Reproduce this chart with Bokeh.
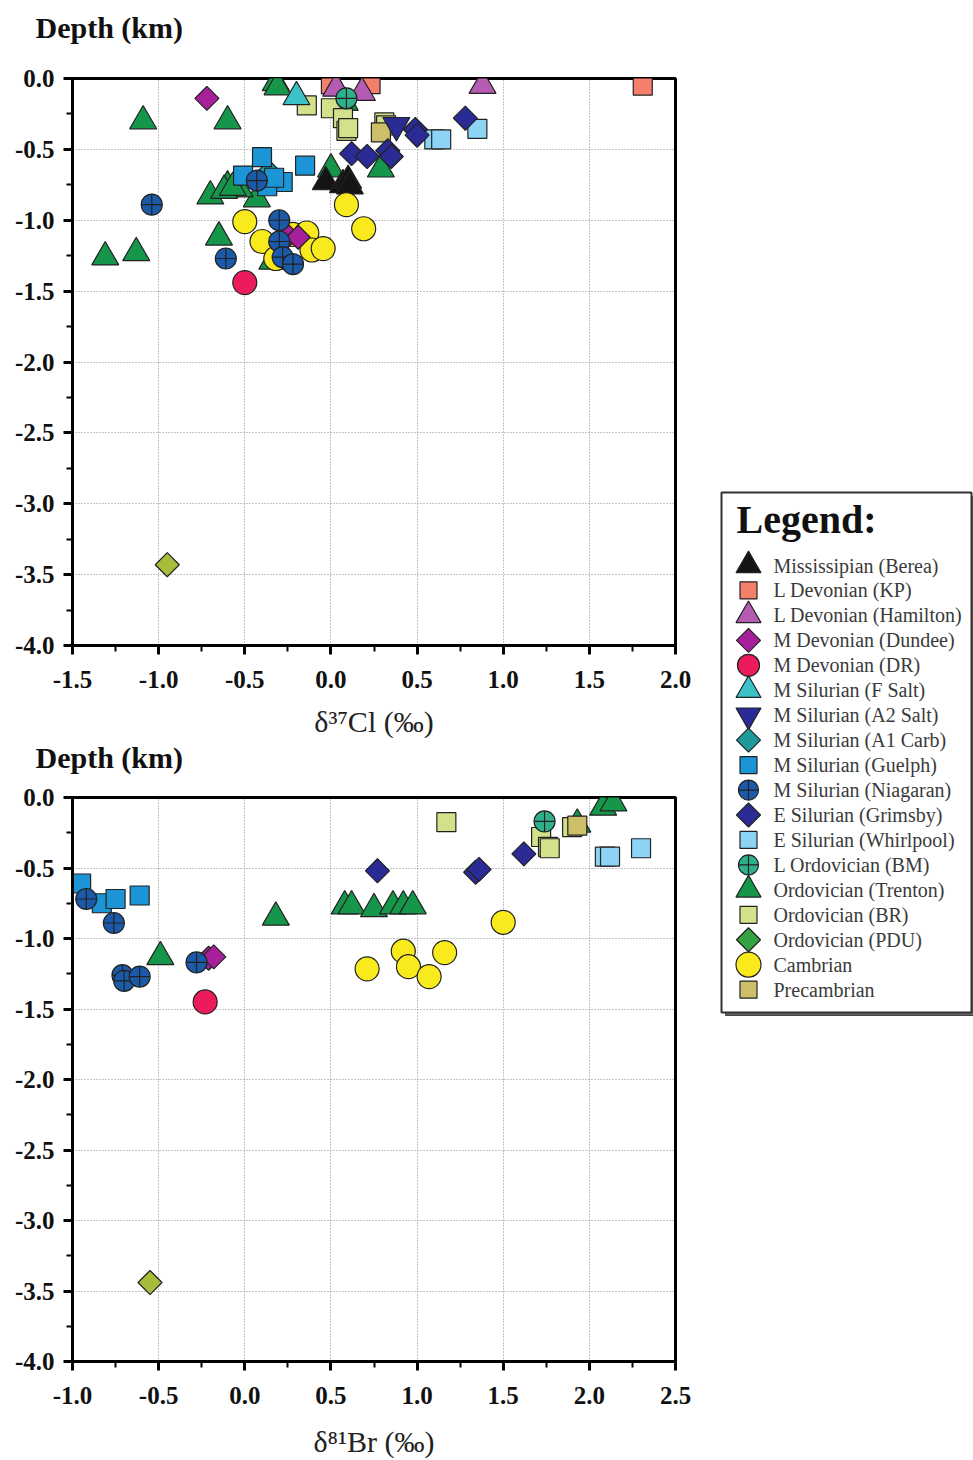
import numpy as np
from bokeh.plotting import figure
from bokeh.layouts import row, column
from bokeh.models import (Range1d, SingleIntervalTicker, PrintfTickFormatter,
                          ColumnDataSource)
from bokeh.embed import file_html
from bokeh.resources import INLINE
from bokeh.core.properties import value

FONT = "Liberation Serif"

# ---------------- data (delta37Cl / delta81Br vs depth, km) ----------------
berea_cl_x = [-0.03, 0.07, 0.10, 0.11]
berea_cl_y = [-0.73, -0.75, -0.72, -0.76]
berea_br_x, berea_br_y = [], []

kp_cl_x = [0.00, 0.23, 1.81]
kp_cl_y = [-0.04, -0.04, -0.05]
kp_br_x, kp_br_y = [], []

hamilton_cl_x = [0.03, 0.18, 0.88]
hamilton_cl_y = [-0.07, -0.10, -0.05]
hamilton_br_x, hamilton_br_y = [], []

dundee_cl_x = [-0.72, -0.25, -0.19]
dundee_cl_y = [-0.14, -1.11, -1.12]
dundee_br_x = [-0.21, -0.18]
dundee_br_y = [-1.14, -1.13]

dr_cl_x = [-0.50]
dr_cl_y = [-1.44]
dr_br_x = [-0.23]
dr_br_y = [-1.45]

fsalt_cl_x = [-0.20]
fsalt_cl_y = [-0.13]
fsalt_br_x, fsalt_br_y = [], []

a2_cl_x = [0.38]
a2_cl_y = [-0.33]
a2_br_x, a2_br_y = [], []

a1_cl_x = [-0.36]
a1_cl_y = [-0.66]
a1_br_x, a1_br_y = [], []

guelph_cl_x = [-0.40, -0.15, -0.51, -0.28, -0.37, -0.33]
guelph_cl_y = [-0.555, -0.615, -0.685, -0.73, -0.76, -0.70]
guelph_br_x = [-0.95, -0.83, -0.75, -0.61]
guelph_br_y = [-0.61, -0.75, -0.72, -0.695]

niagaran_cl_x = [-0.43, -1.04, -0.30, -0.30, -0.61, -0.28, -0.22]
niagaran_cl_y = [-0.72, -0.89, -1.00, -1.15, -1.27, -1.26, -1.31]
niagaran_br_x = [-0.92, -0.76, -0.71, -0.70, -0.61, -0.28]
niagaran_br_y = [-0.72, -0.89, -1.26, -1.30, -1.27, -1.17]

grimsby_cl_x = [0.12, 0.21, 0.33, 0.35, 0.49, 0.50, 0.78]
grimsby_cl_y = [-0.53, -0.55, -0.51, -0.55, -0.36, -0.40, -0.28]
grimsby_br_x = [0.77, 1.34, 1.36, 1.62]
grimsby_br_y = [-0.52, -0.53, -0.51, -0.40]

whirlpool_cl_x = [0.60, 0.64, 0.85]
whirlpool_cl_y = [-0.43, -0.43, -0.355]
whirlpool_br_x = [2.09, 2.12, 2.30]
whirlpool_br_y = [-0.42, -0.42, -0.36]

bm_cl_x = [0.09]
bm_cl_y = [-0.14]
bm_br_x = [1.74]
bm_br_y = [-0.17]

trenton_cl_x = [-0.32, -0.31, -1.09, -0.60, 0.00, -0.60, -0.70, -0.43, -0.53,
                -0.62, -0.57, -0.65, -1.31, -1.13, 0.08, 0.29, -0.34]
trenton_cl_y = [-0.03, -0.06, -0.30, -0.30, -0.64, -0.76, -0.83, -0.85, -0.78,
                -0.79, -0.77, -1.12, -1.26, -1.23, -0.17, -0.64, -1.29]
trenton_br_x = [-0.49, 0.18, 0.58, 0.62, 0.75, 0.86, 0.92, 0.975, 1.93, 2.08, 2.14]
trenton_br_y = [-1.13, -0.85, -0.77, -0.77, -0.79, -0.77, -0.77, -0.77, -0.19, -0.07, -0.04]

br_cl_x = [-0.14, 0.00, 0.07, 0.09, 0.10, 0.31, 0.32]
br_cl_y = [-0.19, -0.21, -0.28, -0.37, -0.35, -0.31, -0.33]
br_br_x = [1.17, 1.72, 1.76, 1.77, 1.90]
br_br_y = [-0.175, -0.28, -0.35, -0.36, -0.21]

pdu_cl_x = [-0.95]
pdu_cl_y = [-3.43]
pdu_br_x = [-0.55]
pdu_br_y = [-3.44]

cambrian_cl_x = [-0.50, -0.40, -0.22, -0.14, -0.11, -0.045, -0.32, 0.09, 0.19]
cambrian_cl_y = [-1.01, -1.15, -1.10, -1.09, -1.21, -1.20, -1.27, -0.89, -1.06]
cambrian_br_x = [0.71, 0.92, 0.95, 1.07, 1.16, 1.50]
cambrian_br_y = [-1.215, -1.09, -1.20, -1.27, -1.10, -0.885]

precambrian_cl_x = [0.29]
precambrian_cl_y = [-0.38]
precambrian_br_x = [1.93]
precambrian_br_y = [-0.20]

legend_labels = ["Mississipian (Berea)", "L Devonian (KP)", "L Devonian (Hamilton)",
                 "M Devonian (Dundee)", "M Devonian (DR)", "M Silurian (F Salt)",
                 "M Silurian (A2 Salt)", "M Silurian (A1 Carb)", "M Silurian (Guelph)",
                 "M Silurian (Niagaran)", "E Silurian (Grimsby)", "E Silurian (Whirlpool)",
                 "L Ordovician (BM)", "Ordovician (Trenton)", "Ordovician (BR)",
                 "Ordovician (PDU)", "Cambrian", "Precambrian"]
legend_markers = ["triangle", "square", "triangle", "diamond", "circle", "triangle",
                  "inverted_triangle", "diamond", "square", "circle_cross", "diamond",
                  "square", "circle_cross", "triangle", "square", "diamond", "circle",
                  "square"]
legend_colors = ["#141414", "#F4806C", "#B45CB4", "#A6209C", "#EC1C5C", "#3AC2C8",
                 "#2B2B96", "#1E9A9A", "#1B95D5", "#1B5AA8", "#2B2B96", "#8DD3F5",
                 "#2EB08C", "#15964A", "#D4E08A", "#35A244", "#F9EA1E", "#CDBF6A"]

cl_xticks = (-1.5, 2.0)
br_xticks = (-1.0, 2.5)
depth_range = (-4.0, 0.0)
y_title = "Depth (km)"

# series: (legend index, cl_x, cl_y, br_x, br_y, plot color override) in drawing order
series = [
    (13, trenton_cl_x, trenton_cl_y, trenton_br_x, trenton_br_y, None),
    (14, br_cl_x, br_cl_y, br_br_x, br_br_y, None),
    (17, precambrian_cl_x, precambrian_cl_y, precambrian_br_x, precambrian_br_y, None),
    (1, kp_cl_x, kp_cl_y, kp_br_x, kp_br_y, None),
    (2, hamilton_cl_x, hamilton_cl_y, hamilton_br_x, hamilton_br_y, None),
    (5, fsalt_cl_x, fsalt_cl_y, fsalt_br_x, fsalt_br_y, None),
    (7, a1_cl_x, a1_cl_y, a1_br_x, a1_br_y, None),
    (8, guelph_cl_x, guelph_cl_y, guelph_br_x, guelph_br_y, None),
    (11, whirlpool_cl_x, whirlpool_cl_y, whirlpool_br_x, whirlpool_br_y, None),
    (6, a2_cl_x, a2_cl_y, a2_br_x, a2_br_y, None),
    (10, grimsby_cl_x, grimsby_cl_y, grimsby_br_x, grimsby_br_y, None),
    (0, berea_cl_x, berea_cl_y, berea_br_x, berea_br_y, None),
    (16, cambrian_cl_x, cambrian_cl_y, cambrian_br_x, cambrian_br_y, None),
    (3, dundee_cl_x, dundee_cl_y, dundee_br_x, dundee_br_y, None),
    (9, niagaran_cl_x, niagaran_cl_y, niagaran_br_x, niagaran_br_y, None),
    (12, bm_cl_x, bm_cl_y, bm_br_x, bm_br_y, None),
    (4, dr_cl_x, dr_cl_y, dr_br_x, dr_br_y, None),
    (15, pdu_cl_x, pdu_cl_y, pdu_br_x, pdu_br_y, "#A8BC3C"),
]

SIZES = {"triangle": 27, "inverted_triangle": 27, "square": 19, "diamond": 17,
         "circle": 24, "circle_cross": 21}
EDGE = "#222222"


def marker_spec(kind):
    if kind == "diamond":
        return "square", np.pi / 4
    return kind, 0.0


def blank_fig(width, height, xr, yr):
    f = figure(width=width, height=height, output_backend="svg", toolbar_location=None,
               x_range=Range1d(*xr), y_range=Range1d(*yr),
               x_axis_type=None, y_axis_type=None, min_border=0)
    f.outline_line_color = None
    f.xgrid.visible = False
    f.ygrid.visible = False
    f.background_fill_color = "white"
    f.border_fill_color = "white"
    return f


def title_fig(height, ty):
    f = blank_fig(705, height, (0, 705), (height, 0))
    f.text(x=[35], y=[ty], text=[y_title], text_font=value(FONT),
           text_font_size="30px", text_font_style="bold", text_color="#111111",
           text_baseline="middle", text_align="left")
    return f


def make_plot(which, xr, xlabel, height, top, bottom, label_standoff):
    p = figure(width=705, height=height, output_backend="svg", toolbar_location=None,
               x_range=Range1d(*xr), y_range=Range1d(*depth_range),
               min_border_left=72, min_border_right=30, min_border_top=top,
               min_border_bottom=bottom)
    p.background_fill_color = "white"
    p.border_fill_color = "white"
    p.outline_line_color = "black"
    p.outline_line_width = 3
    for ax in (p.xaxis[0], p.yaxis[0]):
        ax.ticker = SingleIntervalTicker(interval=0.5, num_minor_ticks=2)
        ax.formatter = PrintfTickFormatter(format="%.1f")
        ax.axis_line_width = 3
        ax.axis_line_color = "black"
        ax.major_tick_line_width = 3
        ax.major_tick_out = 9
        ax.major_tick_in = 0
        ax.minor_tick_line_width = 2
        ax.minor_tick_out = 6
        ax.minor_tick_in = 0
        ax.major_label_text_font = FONT
        ax.major_label_text_font_size = "25px"
        ax.major_label_text_font_style = "bold"
        ax.major_label_text_color = "#111111"
    p.yaxis.major_label_standoff = 9
    p.xaxis.major_label_standoff = 16
    p.xaxis.axis_label = xlabel
    p.xaxis.axis_label_text_font = FONT
    p.xaxis.axis_label_text_font_size = "30px"
    p.xaxis.axis_label_text_font_style = "normal"
    p.xaxis.axis_label_text_color = "#222222"
    p.xaxis.axis_label_standoff = label_standoff
    for g in (p.xgrid[0], p.ygrid[0]):
        g.grid_line_color = "#8a8a8a"
        g.grid_line_dash = "1 2"
        g.grid_line_width = 1

    for idx, cx, cy, bx, by, override in series:
        xs, ys = (cx, cy) if which == "cl" else (bx, by)
        if not xs:
            continue
        kind = legend_markers[idx]
        mk, ang = marker_spec(kind)
        src = ColumnDataSource(dict(x=xs, y=ys))
        p.scatter("x", "y", source=src, marker=mk, angle=ang, size=SIZES[kind],
                  fill_color=override or legend_colors[idx], line_color=EDGE,
                  line_width=1.2)
    return p


t1 = title_fig(50, 27)
p1 = make_plot("cl", cl_xticks, "δ³⁷Cl (‰)", 690, 28, 95, 14)
t2 = title_fig(42, 17)
p2 = make_plot("br", br_xticks, "δ⁸¹Br (‰)", 678, 15, 97, 18)

# ---------------- legend panel ----------------
leg = blank_fig(268, 1460, (705, 973), (1460, 0))
leg.quad(left=[725], right=[975], top=[496], bottom=[1015], fill_color="#666666",
         line_color="#444444", line_width=1)
leg.quad(left=[721], right=[971], top=[492], bottom=[1012], fill_color="white",
         line_color="#333333", line_width=2)
leg.text(x=[736], y=[519], text=["Legend:"], text_font=value(FONT),
         text_font_size="40px", text_font_style="bold", text_color="#111111",
         text_baseline="middle")

n = len(legend_labels)
row_y = [565 + 24.95 * i for i in range(n)]
LSIZES = {"triangle": 25, "inverted_triangle": 25, "square": 17, "diamond": 17,
          "circle": 22, "circle_cross": 20}
for i in range(n):
    kind = legend_markers[i]
    mk, ang = marker_spec(kind)
    sz = LSIZES[kind] + (3 if legend_labels[i] == "Cambrian" else 0)
    leg.scatter(x=[748], y=[row_y[i]], marker=mk, angle=ang, size=sz,
                fill_color=legend_colors[i], line_color=EDGE, line_width=1.2)
leg.text(x=[773] * n, y=row_y, text=legend_labels, text_font=value(FONT),
         text_font_size="20px", text_color="#3a3a3a", text_baseline="middle")

layout = row(column(row(t1), p1, row(t2), p2), leg)
open("out.html", "w").write(file_html(layout, INLINE))
